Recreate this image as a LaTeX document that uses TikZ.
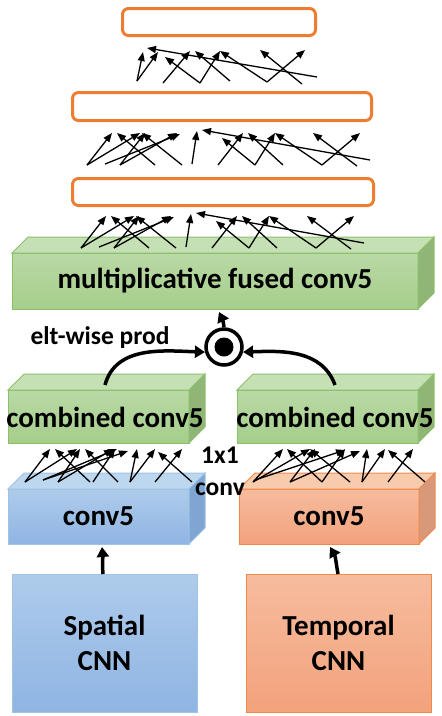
\documentclass[tikz,border=0pt]{standalone}
\usepackage{fontspec}
\setmainfont{Carlito}
\usetikzlibrary{arrows.meta}
\definecolor{fcline}{HTML}{ED7D31}
\definecolor{greenedge}{HTML}{8CC06A}
\definecolor{greentop}{HTML}{C5E0B4}
\definecolor{greenside}{HTML}{8FB676}
\definecolor{greenhi}{HTML}{B9D9A5}
\definecolor{greenlo}{HTML}{A5CE8B}
\definecolor{blueedge}{HTML}{9DC3E6}
\definecolor{bluetop}{HTML}{BDD7EE}
\definecolor{blueside}{HTML}{7FA6D3}
\definecolor{bluehi}{HTML}{AECBEB}
\definecolor{bluelo}{HTML}{8FB5E3}
\definecolor{orangeedge}{HTML}{F08A4B}
\definecolor{orangetop}{HTML}{F8CBAD}
\definecolor{orangeside}{HTML}{D8987A}
\definecolor{orangehi}{HTML}{F6BC9E}
\definecolor{orangelo}{HTML}{F3A27C}
\newcommand{\bigfont}{\fontsize{29}{35}\selectfont\bfseries}
\newcommand{\smallfont}{\fontsize{25.5}{32}\selectfont\bfseries}
\tikzset{
  x=1pt,y=1pt,
  fanarrow/.style={line width=1.3pt,-{Triangle[length=9pt,width=7pt]}},
  flow/.style={line width=3.5pt,-{Triangle[length=10pt,width=12pt]}},
  fcbox/.style={draw=fcline,line width=3pt,rounded corners=6pt,fill=white,inner sep=0pt,outer sep=0pt},
  front/.style={inner sep=0pt,outer sep=0pt,line width=1pt,font=\bigfont,align=center},
  greenfront/.style={front,draw=greenedge,top color=greenhi,bottom color=greenlo},
  bluefront/.style={front,draw=blueedge,top color=bluehi,bottom color=bluelo},
  orangefront/.style={front,draw=orangeedge,top color=orangehi,bottom color=orangelo},
  lbl/.style={inner sep=0pt,font=\bigfont},
  small/.style={inner sep=0pt,font=\smallfont,align=center}
}
% top and side face of a slab, drawn on the front node #1
\newcommand{\slabfaces}[4]{%
  \filldraw[fill=#2,draw=#4,line width=1pt] (#1.north west) -- ++(16,16)
    -- ([shift={(16,16)}]#1.north east) -- (#1.north east) -- cycle;
  \filldraw[fill=#3,draw=#4,line width=1pt] (#1.north east) -- ++(16,16)
    -- ([shift={(16,16)}]#1.south east) -- (#1.south east) -- cycle;}
% fan of thin arrows, sx/sy/tx/ty in picture pixels
\newcommand{\fan}[2]{%
  \foreach \sx/\sy/\tx/\ty [count=\i] in #2{
    \coordinate (#1s\i) at (\sx,-\sy);
    \coordinate (#1t\i) at (\tx,-\ty);
    \draw[fanarrow] (#1s\i) -- (#1t\i);}}
\newcommand{\toppairs}{137/81/143/52, 137/81/158/52, 317/77/147/48, 163/83/190/51, 200/83/165/57,
  200/83/220/51, 230/81/195/51, 267/82/220/51, 267/82/305/50, 302/84/260/50}
\newcommand{\midpairs}{87/165/112/133, 87/165/140/133, 105/164/180/134, 120/165/145/133,
  120/165/177/133, 155/165/117/133, 182/165/142/133, 192/164/197/131, 370/160/202/130,
  218/165/243/133, 255/165/222/138, 255/165/275/133, 283/165/248/133, 322/165/275/133,
  322/165/360/133, 357/166/313/133}
\newcommand{\lpairs}{25/482/50/449, 25/482/77/449, 43/480/117/449, 43/480/128/451, 58/482/80/449,
  58/482/113/449, 90/482/55/449, 93/482/115/449, 118/482/85/449, 130/482/137/449,
  130/482/155/449, 155/482/182/449, 192/482/158/452}
\newcommand{\rpairs}{253/482/283/449, 253/482/310/449, 255/480/345/450, 290/482/360/451,
  290/482/315/449, 322/482/287/449, 322/482/345/449, 350/482/310/449, 362/482/367/449,
  362/482/385/449, 388/482/413/449, 425/482/388/450}
\begin{document}
\begin{tikzpicture}
\useasboundingbox (0,0) rectangle (442,-716);
% fully connected layers
\node[fcbox,minimum width=193,minimum height=27] (fc3) at (219,-22) {};
\node[fcbox,minimum width=299,minimum height=28] (fc2) at (222,-106.5) {};
\node[fcbox,minimum width=301,minimum height=27] (fc1) at (223,-192) {};
% fused slab
\node[greenfront,minimum width=406,minimum height=56] (fused) at (215,-281) {multiplicative fused conv5};
\slabfaces{fused}{greentop}{greenside}{greenedge}
% combined slabs
\node[greenfront,minimum width=181,minimum height=53] (lcomb) at (98.5,-416.5) {};
\slabfaces{lcomb}{greentop}{greenside}{greenedge}
\node[greenfront,minimum width=181,minimum height=53] (rcomb) at (327.5,-416.5) {};
\slabfaces{rcomb}{greentop}{greenside}{greenedge}
\node[lbl] (lcombtxt) at (105,-417) {combined conv5};
\node[lbl] (rcombtxt) at (335,-417) {combined conv5};
% conv5 slabs
\node[bluefront,minimum width=181,minimum height=55] (lconv) at (98.5,-516.5) {conv5};
\slabfaces{lconv}{bluetop}{blueside}{blueedge}
\node[orangefront,minimum width=180,minimum height=55] (rconv) at (329,-516.5) {conv5};
\slabfaces{rconv}{orangetop}{orangeside}{orangeedge}
% streams
\node[bluefront,minimum width=185,minimum height=138] (spatial) at (104.5,-643) {Spatial\\CNN};
\node[orangefront,minimum width=185,minimum height=138] (temporal) at (338.5,-643) {Temporal\\CNN};
% product
\node[circle,draw,line width=3.5pt,fill=white,minimum size=36,inner sep=0pt] (prod) at (224,-347) {};
\node[circle,fill=black,minimum size=19,inner sep=0pt] (dot) at (prod) {};
\node[small] (eltw) at (100,-338) {elt-wise prod};
\node[small] (onebyone) at (220,-471) {1x1\\conv};
% thin connections
\fan{a}{\toppairs}
\fan{b}{\midpairs}
\begin{scope}[shift={(-6,-83)}]
\fan{c}{\midpairs}
\end{scope}
\fan{l}{\lpairs}
\fan{r}{\rpairs}
% thick arrows
\coordinate (lup) at (105,-385);
\coordinate (rup) at (335,-385);
\draw[flow] (lup) to[out=75,in=178] (prod.195);
\draw[flow] (rup) to[out=110,in=2] (prod.-15);
\draw[flow] (prod.north) to[out=95,in=-65] (219,-312);
\draw[flow] (spatial.north -| 103,0) to[out=95,in=-85] (102,-547);
\draw[flow] (temporal.north -| 338,0) to[out=100,in=-60] (330,-547);
\end{tikzpicture}
\end{document}
